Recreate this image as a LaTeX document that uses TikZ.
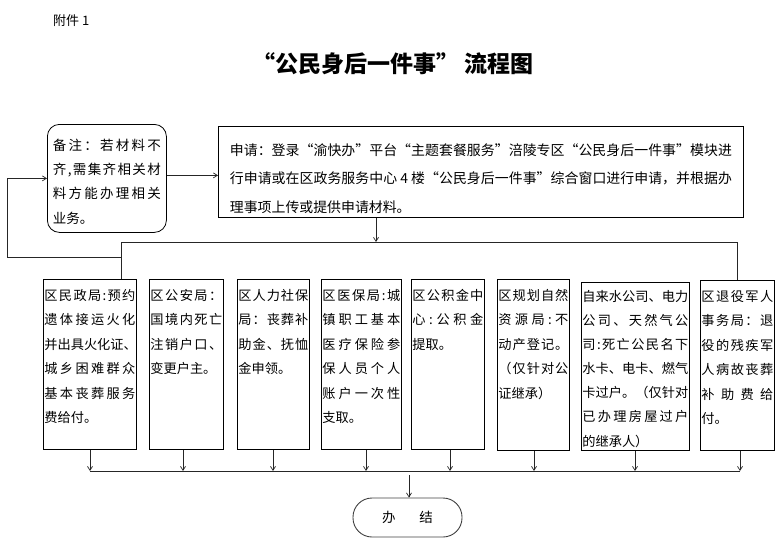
\documentclass[tikz,border=0pt]{standalone}
\usepackage{fontspec}
\setmainfont{Noto Sans CJK SC}
\usetikzlibrary{arrows.meta,calc}
\def\J#1{\makebox[\linewidth][s]{\Jfirst#1\relax}}
\def\Jfirst#1{#1\Jloop}
\def\Jloop#1{\ifx#1\relax\else\hfill#1\expandafter\Jloop\fi}
\def\four{\ 4\ }
\newcommand\cell[3]{\parbox[t][#2][t]{#1}{\fontsize{13.2pt}{24.5pt}\selectfont\raggedright\rule{0pt}{21pt}#3}}
\newcommand\cellb[3]{\parbox[t][#2][t]{#1}{\fontsize{13.2pt}{24.1pt}\selectfont\raggedright\rule{0pt}{19pt}#3}}
\tikzset{
  box/.style={draw, line width=0.8pt, inner xsep=1pt, inner ysep=0pt, anchor=north west, rectangle},
  arr/.style={-{Straight Barb[length=4pt,width=5pt]}, line width=0.7pt, draw=black!85},
  ln/.style={line width=0.8pt, draw=black!85}
}
\begin{document}
\begin{tikzpicture}[x=1pt,y=-1pt]
\useasboundingbox (0,0) rectangle (781,546);
\node[anchor=base west, inner sep=0, font=\fontsize{13pt}{13pt}\selectfont] (att) at (53,25) {附件 1};
\node[inner sep=0, font=\fontsize{23pt}{23pt}\selectfont\bfseries] (title) at (393,64) {“公民身后一件事” 流程图};

\node[box, rounded corners=12pt, inner xsep=5.5pt] (note) at (47,124)
  {\parbox[t][108pt][t]{108pt}{\fontsize{13.5pt}{24.2pt}\selectfont\raggedright\rule{0pt}{26pt}\J{备注：若材料不}\\\J{齐 ,需集齐相关材}\\\J{料方能办理相关}\\业务。}};

\node[box, inner xsep=11.5pt] (apply) at (218,126)
  {\parbox[t][91pt][t]{502pt}{\fontsize{13.9pt}{28.5pt}\selectfont\raggedright\rule{0pt}{29pt}\J{申请：登录“渝快办”平台“主题套餐服务”涪陵专区“公民身后一件事”模块进}\\\J{行申请或在区政务服务中心\four 楼“公民身后一件事”综合窗口进行申请，并根据办}\\理事项上传或提供申请材料。}};

\node[box] (b1) at (43,279) {\cell{91pt}{170pt}{\J{区民政局:预约}\\\J{遗体接运火化}\\\J{并出具火化证、}\\\J{城乡困难群众}\\\J{基本丧葬服务}\\费给付。}};
\node[box] (b2) at (149,279) {\cell{72pt}{170pt}{\J{区公安局：}\\\J{国境内死亡}\\\J{注销户口、}\\变更户主。}};
\node[box] (b3) at (237,279) {\cell{70pt}{170pt}{\J{区人力社保}\\\J{局：丧葬补}\\\J{助金、抚恤}\\金申领。}};
\node[box] (b4) at (321,279) {\cell{78pt}{170pt}{\J{区医保局:城}\\\J{镇职工基本}\\\J{医疗保险参}\\\J{保人员个人}\\\J{账户一次性}\\支取。}};
\node[box] (b5) at (411,279) {\cell{71pt}{170pt}{\J{区公积金中}\\\J{心:公积金}\\提取。}};
\node[box] (b6) at (497,279) {\cell{70pt}{171pt}{\J{区规划自然}\\\J{资源局:不}\\\J{动产登记。}\\\J{（仅针对公}\\证继承）}};
\node[box] (b7) at (581,282) {\cellb{106pt}{168pt}{\J{自来水公司、电力}\\\J{公司、天然气公}\\\J{司:死亡公民名下}\\\J{水卡、电卡、燃气}\\\J{卡过户。（仅针对}\\\J{已办理房屋过户}\\的继承人）}};
\node[box] (b8) at (700,280) {\cell{72pt}{170pt}{\J{区退役军人}\\\J{事务局：退}\\\J{役的残疾军}\\\J{人病故丧葬}\\\J{补助费给}\\付。}};

\node[draw, line width=0.9pt, draw=black!75, rounded corners=19pt, minimum width=109pt, minimum height=39pt, inner sep=0, font=\fontsize{13.5pt}{13.5pt}\selectfont] (done) at (407.5,517.5) {办\hspace{24pt}结};

\coordinate (busL) at (121,242);
\coordinate (busR) at (737,242);
\coordinate (bt) at (376,242);
\coordinate (fb) at (121,257);
\coordinate (fbL) at (7,257);
\coordinate (bb) at (409,471);

\draw[arr] ([yshift=3pt]note.east) -- ([yshift=3pt]note.east -| apply.west);
\draw[arr] (bt |- apply.south) -- (bt);
\draw[ln] (b1.north -| busL) -- (busL) -- (busR) -- (b8.north -| busR);
\draw[arr] (fb) -- (fbL) |- (note.west);

\foreach \b/\x in {b1/90,b2/183,b3/273,b4/366,b5/450,b6/534,b7/635,b8/740}{
  \draw[arr] (\b.south -| \x,0) -- (\x,471);
}
\draw[ln] (90,471) -- (740,471);
\draw[arr] ([yshift=-4pt]bb) -- (done.north -| bb);
\end{tikzpicture}
\end{document}
